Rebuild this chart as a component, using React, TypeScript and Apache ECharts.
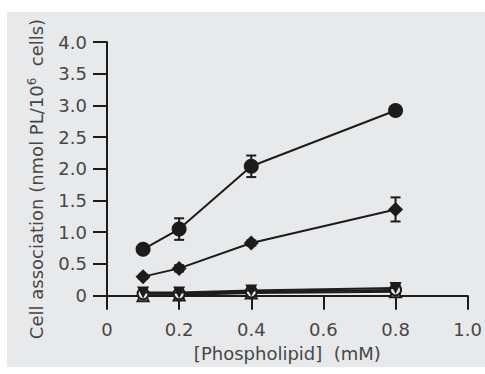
import React, { useEffect, useRef } from "react";
import * as echarts from "echarts";

const xValues = [0.1, 0.2, 0.4, 0.8];
const yTickValues = [0, 0.5, 1.0, 1.5, 2.0, 2.5, 3.0, 3.5, 4.0];
const xTickValues = [0, 0.2, 0.4, 0.6, 0.8, 1.0];

const circleFilled = [0.73, 1.05, 2.04, 2.92];
const circleFilledErr = [0.05, 0.17, 0.17, 0.06];
const diamondFilled = [0.3, 0.43, 0.83, 1.36];
const diamondFilledErr = [0.03, 0.05, 0.04, 0.19];
const triDownFilled = [0.05, 0.05, 0.08, 0.12];
const triDownErr = [0.03, 0.03, 0.03, 0.05];
const circleOpen = [0.03, 0.03, 0.06, 0.09];
const circleOpenErr = [0.02, 0.02, 0.02, 0.03];
const triUpOpen = [0.0, 0.01, 0.04, 0.06];
const triUpErr = [0.02, 0.02, 0.02, 0.03];

const INK = "#1c1c1c";
const TEXT = "#474747";
const FONT = "DejaVu Sans, Liberation Sans, sans-serif";
const FS = 18;

function lineSeries(name: string, vals: number[], symbol: string, size: number, open: boolean, z: number) {
  return {
    name,
    type: "line",
    data: xValues.map((x, i) => [x, vals[i]]),
    symbol,
    symbolSize: size,
    showAllSymbol: true,
    lineStyle: { color: INK, width: 2 },
    itemStyle: open
      ? { color: "#e8e9eb", borderColor: INK, borderWidth: 2 }
      : { color: INK, borderColor: INK, borderWidth: 0 },
    z,
  };
}

function errSeries(vals: number[], errs: number[]) {
  return {
    type: "custom",
    data: xValues.map((x, i) => [x, vals[i] - errs[i], vals[i] + errs[i]]),
    renderItem: (params: any, api: any) => {
      const x = api.value(0);
      const lo = api.coord([x, api.value(1)]);
      const hi = api.coord([x, api.value(2)]);
      const w = 5;
      const style = { stroke: INK, lineWidth: 2 };
      return {
        type: "group",
        children: [
          { type: "line", shape: { x1: lo[0], y1: lo[1], x2: hi[0], y2: hi[1] }, style },
          { type: "line", shape: { x1: lo[0] - w, y1: lo[1], x2: lo[0] + w, y2: lo[1] }, style },
          { type: "line", shape: { x1: hi[0] - w, y1: hi[1], x2: hi[0] + w, y2: hi[1] }, style },
        ],
      };
    },
    z: 1,
    silent: true,
  };
}

export default function App() {
  const ref = useRef<HTMLDivElement>(null);
  useEffect(() => {
    if (!ref.current) return;
    const chart = echarts.init(ref.current, null, { renderer: "svg" });
    chart.setOption({
      animation: false,
      textStyle: { fontFamily: FONT },
      grid: { left: 107, right: 17, top: 42, bottom: 72 },
      xAxis: {
        type: "value",
        min: 0,
        max: 1.0,
        interval: 0.2,
        name: "[Phospholipid]  (mM)",
        nameLocation: "middle",
        nameGap: 42,
        nameTextStyle: { fontSize: FS, color: TEXT, fontFamily: FONT },
        axisLine: { lineStyle: { color: INK, width: 2 } },
        axisTick: { show: true, length: 14, lineStyle: { color: INK, width: 2 }, customValues: xTickValues },
        axisLabel: {
          customValues: xTickValues,
          margin: 18,
          fontSize: FS,
          color: TEXT,
          fontFamily: FONT,
          formatter: (v: number) => (v === 0 ? "0" : v.toFixed(1)),
        },
        splitLine: { show: false },
      },
      yAxis: {
        type: "value",
        min: -0.1,
        max: 4.0,
        name: "Cell association (nmol PL/10{sup|6}  cells)",
        nameLocation: "middle",
        nameRotate: 90,
        nameGap: 61,
        nameTextStyle: {
          fontSize: FS,
          color: TEXT,
          fontFamily: FONT,
          padding: [0, 14, 0, 0],
          rich: { sup: { fontSize: 12, color: TEXT, fontFamily: FONT, verticalAlign: "top", padding: [0, 0, 8, 0] } },
        },
        axisLine: { show: true, onZero: false, lineStyle: { color: INK, width: 2 } },
        axisTick: { show: true, length: 14, lineStyle: { color: INK, width: 2 }, customValues: yTickValues },
        axisLabel: {
          customValues: yTickValues,
          margin: 20,
          fontSize: FS,
          color: TEXT,
          fontFamily: FONT,
          formatter: (v: number) => (Math.abs(v) < 1e-9 ? "0" : v.toFixed(1)),
        },
        splitLine: { show: false },
      },
      series: [
        errSeries(circleFilled, circleFilledErr),
        errSeries(diamondFilled, diamondFilledErr),
        errSeries(triDownFilled, triDownErr),
        errSeries(circleOpen, circleOpenErr),
        errSeries(triUpOpen, triUpErr),
        lineSeries("triUp", triUpOpen, "triangle", 11, true, 3),
        lineSeries("circleOpen", circleOpen, "circle", 11, true, 4),
        lineSeries("triDown", triDownFilled, "path://M0,0 L10,0 L5,9 Z", 12, false, 5),
        lineSeries("diamond", diamondFilled, "diamond", 15, false, 6),
        lineSeries("circle", circleFilled, "circle", 15, false, 7),
      ],
    });
    return () => chart.dispose();
  }, []);
  return (
    <div style={{ position: "fixed", left: 0, top: 0, width: 485, height: 374, background: "#fff" }}>
      <div style={{ position: "absolute", left: 7, top: 12, width: 478, height: 355, background: "#e8e9eb" }} />
      <div ref={ref} style={{ position: "absolute", left: 0, top: 0, width: 485, height: 374 }} />
    </div>
  );
}
